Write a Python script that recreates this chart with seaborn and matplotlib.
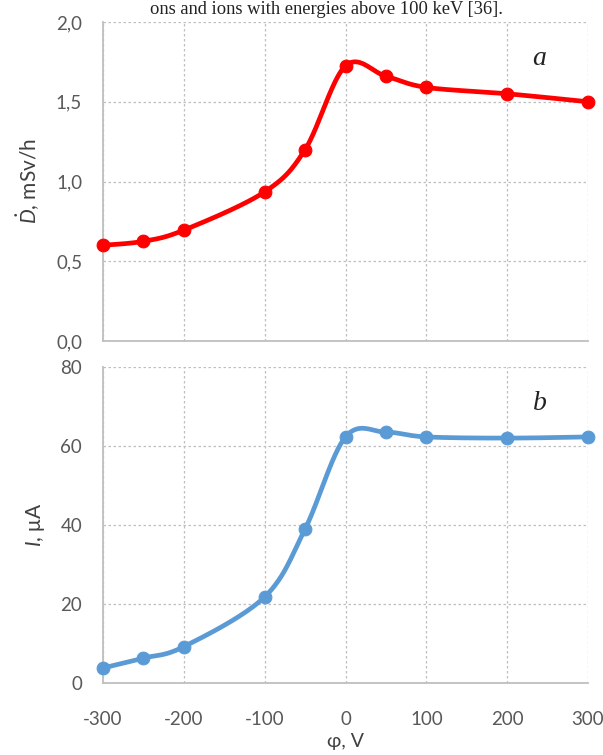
import numpy as np
import pandas as pd
import matplotlib
matplotlib.use("Agg")
import matplotlib.pyplot as plt
import seaborn as sns

voltage = [-300, -250, -200, -100, -50, 0, 50, 100, 200, 300]
dose_rate = [0.60, 0.625, 0.695, 0.935, 1.20, 1.725, 1.66, 1.59, 1.55, 1.50]
current = [3.8, 6.3, 9.2, 21.8, 39.0, 62.3, 63.5, 62.3, 62.0, 62.3]
x_ticks = [-300, -200, -100, 0, 100, 200, 300]
top_yticks = [0.0, 0.5, 1.0, 1.5, 2.0]
top_ylabels = ["0,0", "0,5", "1,0", "1,5", "2,0"]
bot_yticks = [0, 20, 40, 60, 80]

sns.set_theme(style="white")
plt.rcParams['font.family'] = ['Lato', 'DejaVu Sans']
plt.rcParams['mathtext.fontset'] = 'custom'
plt.rcParams['mathtext.it'] = 'Lato:italic'
plt.rcParams['mathtext.rm'] = 'Lato'

TICK_C = "#595959"
GRID_C = "#bfbfbf"


def smooth(xs, ys, xr, yr, n=40):
    # Excel-like smoothed line (Catmull-Rom bezier) in normalised space
    xs = (np.asarray(xs, float) - xr[0]) / (xr[1] - xr[0])
    ys = (np.asarray(ys, float) - yr[0]) / (yr[1] - yr[0])
    P = np.column_stack([xs, ys])
    out = []
    for i in range(len(P) - 1):
        p0 = P[i - 1] if i > 0 else P[i]
        p1, p2 = P[i], P[i + 1]
        p3 = P[i + 2] if i + 2 < len(P) else P[i + 1]
        c1 = p1 + (p2 - p0) / 6
        c2 = p2 - (p3 - p1) / 6
        t = np.linspace(0, 1, n)[:, None]
        seg = (1 - t) ** 3 * p1 + 3 * (1 - t) ** 2 * t * c1 + 3 * (1 - t) * t ** 2 * c2 + t ** 3 * p2
        out.append(seg if i == 0 else seg[1:])
    S = np.vstack(out)
    return S[:, 0] * (xr[1] - xr[0]) + xr[0], S[:, 1] * (yr[1] - yr[0]) + yr[0]


fig = plt.figure(figsize=(6.03, 7.55), dpi=100)
ax1 = fig.add_axes([103 / 603, 1 - 341 / 755, 485 / 603, 319 / 755])
ax2 = fig.add_axes([103 / 603, 1 - 683 / 755, 485 / 603, 316 / 755])

fig.text(150 / 603, 1 - 1 / 755, "ons and ions with energies above 100 keV [36].",
         family="Liberation Serif", fontsize=13.3, color="#222222", va="top", ha="left")


def style(ax, yticks, ylabels, ylim, xlabels):
    ax.set_xlim(-300, 300)
    ax.set_ylim(*ylim)
    ax.set_xticks(x_ticks)
    ax.set_yticks(yticks)
    ax.set_yticklabels(ylabels)
    if xlabels:
        ax.set_xticklabels([str(v) for v in x_ticks])
    else:
        ax.set_xticklabels([])
    ax.grid(True, color=GRID_C, linestyle=(0, (2, 2)), linewidth=0.9)
    ax.tick_params(axis="y", length=0, labelsize=13.5, colors=TICK_C, pad=15)
    ax.tick_params(axis="x", length=0, labelsize=13.5, colors=TICK_C, pad=20)
    for s in ["top", "right"]:
        ax.spines[s].set_visible(False)
    for s in ["left", "bottom"]:
        ax.spines[s].set_color("#bfbfbf")
        ax.spines[s].set_linewidth(1.3)
    ax.set_axisbelow(True)


style(ax1, top_yticks, top_ylabels, (0, 2.0), False)
style(ax2, bot_yticks, [str(v) for v in bot_yticks], (0, 80), True)

red = "#ff0000"
blue = "#5b9bd5"

sx, sy = smooth(voltage, dose_rate, (-300, 300), (0, 2.0))
sns.lineplot(x=sx, y=sy, ax=ax1, color=red, linewidth=3.4, sort=False, estimator=None)
sns.scatterplot(x=voltage, y=dose_rate, ax=ax1, color=red, s=85, edgecolor=red, zorder=5, clip_on=False)

sx, sy = smooth(voltage, current, (-300, 300), (0, 80))
sns.lineplot(x=sx, y=sy, ax=ax2, color=blue, linewidth=3.4, sort=False, estimator=None)
sns.scatterplot(x=voltage, y=current, ax=ax2, color=blue, s=85, edgecolor=blue, zorder=5, clip_on=False)

ax1.set_ylabel(r"$\dot{D}$, mSv/h", fontsize=15, color="#404040", labelpad=10)
ax2.set_ylabel(r"$I$, μA", fontsize=15, color="#404040", labelpad=10)
ax2.set_xlabel("φ, V", fontsize=14, color="#404040", labelpad=4)
ax1.set_xlabel("")

ax1.text(0.90, 0.885, "a", transform=ax1.transAxes, family="Liberation Serif",
         style="italic", fontsize=20, ha="center", va="center", color="#222222")
ax2.text(0.90, 0.885, "b", transform=ax2.transAxes, family="Liberation Serif",
         style="italic", fontsize=20, ha="center", va="center", color="#222222")

fig.savefig("out.png", dpi=100)
